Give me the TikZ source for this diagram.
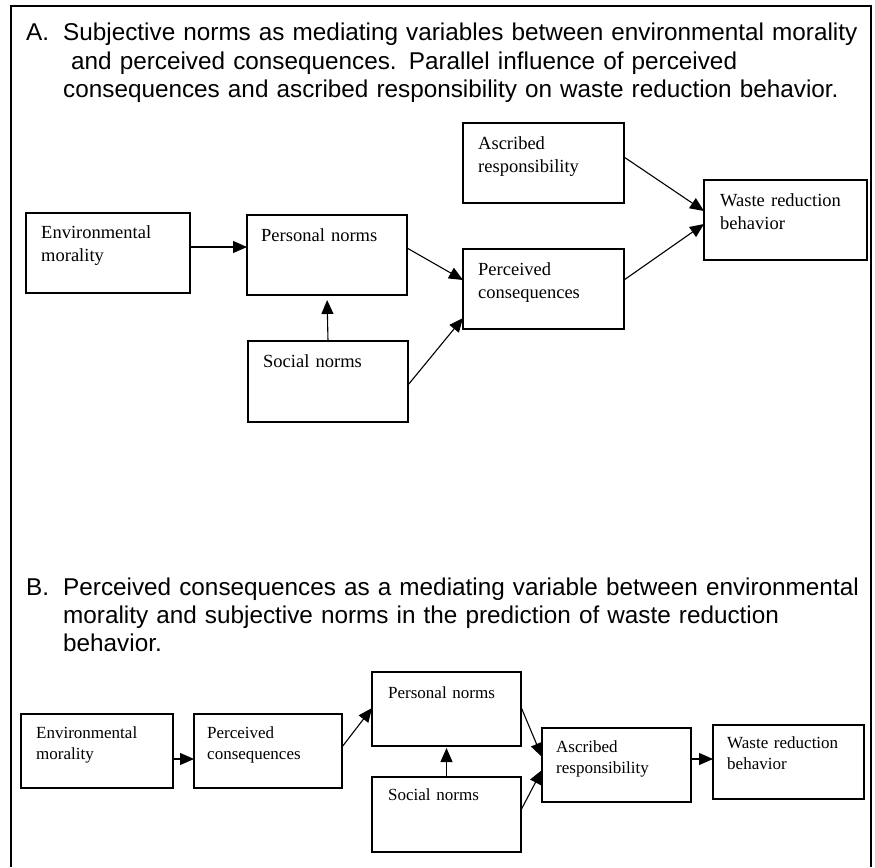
\documentclass[tikz,border=0pt]{standalone}
\usepackage{fontspec}
\setmainfont{Liberation Serif}
\newfontfamily\titlefont{Liberation Sans}
\usetikzlibrary{arrows.meta}
\begin{document}
\begin{tikzpicture}
[x=1pt,y=-1pt,
  boxdecorate/.style={shape=rectangle,draw,line width=1.1pt,inner sep=0pt,outer sep=0pt,minimum width=161pt,minimum height=80pt},%
  smallboxdecorate/.style={boxdecorate,minimum width=149pt,minimum height=74pt},%
  textdecorate/.style={anchor=base west,text width=140pt,align=left,inner sep=0pt,font=\fontsize{18.5}{23}\selectfont},%
  smalltextdecorate/.style={textdecorate,text width=130pt,font=\fontsize{17}{21.5}\selectfont},%
  titledecorate/.style={anchor=base west,text width=810pt,align=left,inner sep=0pt,font=\titlefont\fontsize{24.3}{28.3}\selectfont},%
  arrowdecorate/.style={-{Triangle[length=14pt,width=12pt]},line width=1.1pt}]
\useasboundingbox (0,0) rectangle (875,867);
% outer frame
\draw[line width=1.4pt] (11,867) -- (11,6) -- (871,6) -- (871,867);
%
%%% model A
% title
\node (tagA) at (26,41) [titledecorate,text width=30pt] {A.};
\node (titleA) at (63,41) [titledecorate] {Subjective norms as mediating variables between environmental morality\\
\hspace*{8pt}and perceived consequences. Parallel influence of perceived\\
consequences and ascribed responsibility on waste reduction behavior.};
% boxes
\node (emA) at (108,253) [boxdecorate,minimum width=164pt] {};
\node (emAtext) at ([shift={(15,25)}]emA.north west) [textdecorate] {Environmental\\morality};
\node (pnA) at (327,255) [boxdecorate,minimum width=160pt] {};
\node (pnAtext) at ([shift={(14,26)}]pnA.north west) [textdecorate] {Personal norms};
\node (snA) at (328,381.5) [boxdecorate,minimum width=160pt,minimum height=81pt] {};
\node (snAtext) at ([shift={(15,26)}]snA.north west) [textdecorate] {Social norms};
\node (arA) at (543.5,163) [boxdecorate] {};
\node (arAtext) at ([shift={(15,26)}]arA.north west) [textdecorate] {Ascribed\\responsibility};
\node (pcA) at (543.5,289) [boxdecorate] {};
\node (pcAtext) at ([shift={(15,26)}]pcA.north west) [textdecorate] {Perceived\\consequences};
\node (wrA) at (785.5,220) [boxdecorate,minimum width=163pt] {};
\node (wrAtext) at ([shift={(16,26)}]wrA.north west) [textdecorate] {Waste reduction\\behavior};
% arrows
\path
([yshift=6pt]emA.east) edge[arrowdecorate] ([yshift=8pt]pnA.west)
([yshift=7pt]pnA.east) edge[arrowdecorate] ([yshift=9pt]pcA.west)
(snA.north) edge[arrowdecorate,shorten >=5pt] (pnA.south)
([yshift=-3.5pt]snA.east) edge[arrowdecorate] ([yshift=-29pt]pcA.west)
([yshift=6pt]arA.east) edge[arrowdecorate] ([yshift=9pt]wrA.west)
([yshift=9pt]pcA.east) edge[arrowdecorate] ([yshift=-4pt]wrA.west);
%
%%% model B
% title
\node (tagB) at (26,595) [titledecorate,text width=30pt] {B.};
\node (titleB) at (63,595) [titledecorate] {Perceived consequences as a mediating variable between environmental\\
morality and subjective norms in the prediction of waste reduction\\
behavior.};
% boxes
\node (emB) at (97,751) [smallboxdecorate,minimum width=152pt] {};
\node (emBtext) at ([shift={(15,24)}]emB.north west) [smalltextdecorate] {Environmental\\morality};
\node (pcB) at (268,751) [smallboxdecorate,minimum width=148pt] {};
\node (pcBtext) at ([shift={(13,24)}]pcB.north west) [smalltextdecorate] {Perceived\\consequences};
\node (pnB) at (446.5,709) [smallboxdecorate] {};
\node (pnBtext) at ([shift={(16,26)}]pnB.north west) [smalltextdecorate] {Personal norms};
\node (snB) at (446.5,814.5) [smallboxdecorate,minimum height=75pt] {};
\node (snBtext) at ([shift={(16,23)}]snB.north west) [smalltextdecorate] {Social norms};
\node (arB) at (616.5,765) [smallboxdecorate] {};
\node (arBtext) at ([shift={(14,24)}]arB.north west) [smalltextdecorate] {Ascribed\\responsibility};
\node (wrB) at (788.5,762) [smallboxdecorate,minimum width=151pt] {};
\node (wrBtext) at ([shift={(14,23)}]wrB.north west) [smalltextdecorate] {Waste reduction\\behavior};
% arrows
\path
([yshift=-8pt]emB.east) edge[arrowdecorate] ([yshift=-8pt]pcB.west)
([yshift=4pt]pcB.east) edge[arrowdecorate] ([yshift=1pt]pnB.west)
(snB.north) edge[arrowdecorate,shorten >=2pt] (pnB.south)
([yshift=2pt]pnB.east) edge[arrowdecorate] ([yshift=8pt]arB.west)
([yshift=4.5pt]snB.east) edge[arrowdecorate] ([yshift=-5pt]arB.west)
([yshift=6pt]arB.east) edge[arrowdecorate] ([yshift=3pt]wrB.west);
\end{tikzpicture}
\end{document}
